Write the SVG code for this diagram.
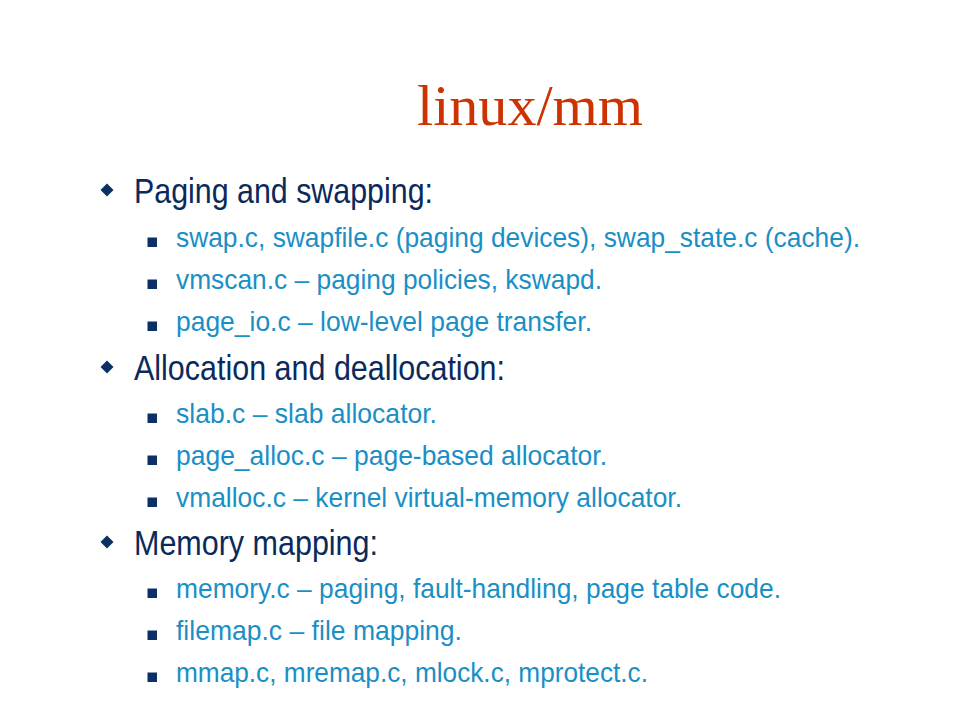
<svg xmlns="http://www.w3.org/2000/svg" width="960" height="720" viewBox="0 0 960 720">
<defs>
<style>
.title{font-family:"Liberation Serif","Times New Roman",serif;font-size:58px;fill:#CC3300}
.l1{font-family:"Liberation Sans",Arial,sans-serif;font-size:35px;fill:#0B2A5C}
.l2{font-family:"Liberation Sans",Arial,sans-serif;font-size:28px;fill:#1A8FC6}
.dia{fill:#0B3068}
.sq{fill:#0B3068}
</style>
<path id="d" class="dia" d="M0,-6.5 L6.5,0 L0,6.5 L-6.5,0 Z"/>
<rect id="s" class="sq" x="0" y="-9.5" width="9.5" height="9.5"/>
</defs>
<rect width="960" height="720" fill="#ffffff"/>
<g id="title"><text class="title" x="417" y="125" textLength="226" lengthAdjust="spacingAndGlyphs">linux/mm</text></g>

<g id="paging">
<use href="#d" x="107" y="190"/>
<text class="l1" x="134" y="203" textLength="299" lengthAdjust="spacingAndGlyphs">Paging and swapping:</text>
<use href="#s" x="147.5" y="247"/>
<text class="l2" x="176" y="247" textLength="684" lengthAdjust="spacingAndGlyphs">swap.c, swapfile.c (paging devices), swap_state.c (cache).</text>
<use href="#s" x="147.5" y="289"/>
<text class="l2" x="176" y="289" textLength="426" lengthAdjust="spacingAndGlyphs">vmscan.c – paging policies, kswapd.</text>
<use href="#s" x="147.5" y="331"/>
<text class="l2" x="176" y="331" textLength="416" lengthAdjust="spacingAndGlyphs">page_io.c – low-level page transfer.</text>
</g>

<g id="allocation">
<use href="#d" x="107" y="367"/>
<text class="l1" x="134" y="380" textLength="371" lengthAdjust="spacingAndGlyphs">Allocation and deallocation:</text>
<use href="#s" x="147.5" y="423"/>
<text class="l2" x="176" y="423" textLength="261" lengthAdjust="spacingAndGlyphs">slab.c – slab allocator.</text>
<use href="#s" x="147.5" y="465"/>
<text class="l2" x="176" y="465" textLength="431" lengthAdjust="spacingAndGlyphs">page_alloc.c – page-based allocator.</text>
<use href="#s" x="147.5" y="507"/>
<text class="l2" x="176" y="507" textLength="506" lengthAdjust="spacingAndGlyphs">vmalloc.c – kernel virtual-memory allocator.</text>
</g>

<g id="mapping">
<use href="#d" x="107" y="542"/>
<text class="l1" x="134" y="555" textLength="244" lengthAdjust="spacingAndGlyphs">Memory mapping:</text>
<use href="#s" x="147.5" y="598"/>
<text class="l2" x="176" y="598" textLength="605" lengthAdjust="spacingAndGlyphs">memory.c – paging, fault-handling, page table code.</text>
<use href="#s" x="147.5" y="640"/>
<text class="l2" x="176" y="640" textLength="286" lengthAdjust="spacingAndGlyphs">filemap.c – file mapping.</text>
<use href="#s" x="147.5" y="682"/>
<text class="l2" x="176" y="682" textLength="472" lengthAdjust="spacingAndGlyphs">mmap.c, mremap.c, mlock.c, mprotect.c.</text>
</g>
</svg>
